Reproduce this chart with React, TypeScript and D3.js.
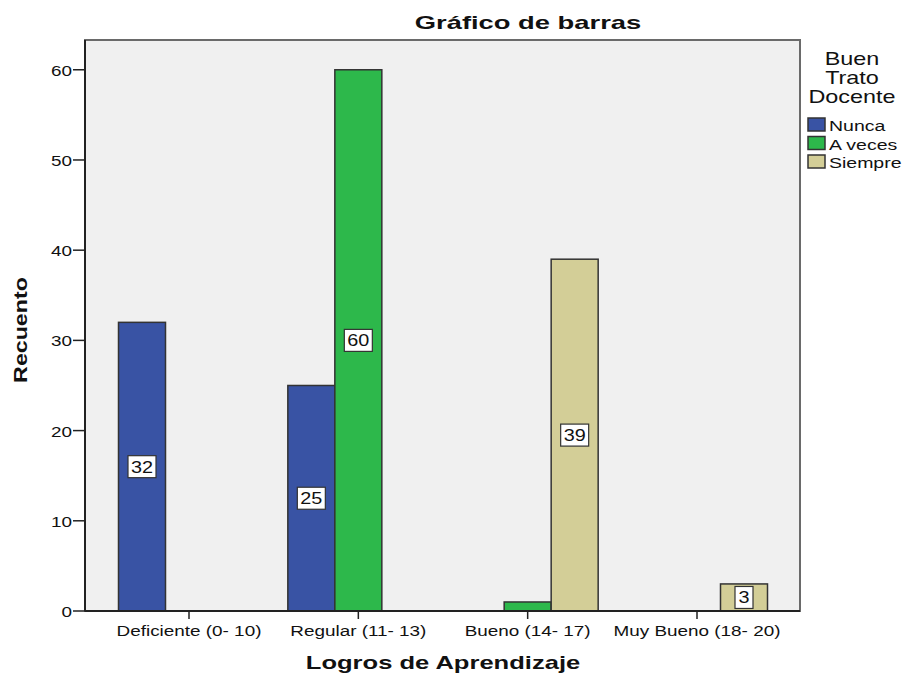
import React from "react";
import * as d3 from "d3";

const categories = ["Deficiente (0- 10)", "Regular (11- 13)", "Bueno (14- 17)", "Muy Bueno (18- 20)"];
const seriesNames = ["Nunca", "A veces", "Siempre"];
const nunca = [32, 25, 0, 0];
const aVeces = [0, 60, 1, 0];
const siempre = [0, 0, 39, 3];
const yTicks = [0, 10, 20, 30, 40, 50, 60];
const colors = ["#3953a4", "#2db84b", "#d3ce97"];
const legendTitle = ["Buen", "Trato", "Docente"];

const W = 902, H = 675;
const L = 85, R = 800, T = 40, B = 611;
const font = "'Liberation Sans', Arial, sans-serif";

function T2(props: { x: number; y: number; sx?: number; rot?: number; anchor?: string; size: number; bold?: boolean; children: any }) {
  const { x, y, sx = 1.27, rot = 0, anchor = "start", size, bold, children } = props;
  return (
    <text
      transform={`translate(${x},${y}) rotate(${rot}) scale(${sx},1)`}
      textAnchor={anchor}
      fontSize={size}
      fontWeight={bold ? "bold" : "normal"}
      fill="#111"
    >
      {children}
    </text>
  );
}

export default function App() {
  const series = [nunca, aVeces, siempre];
  const x = d3.scalePoint<string>().domain(categories).range([189, 697]);
  const y = d3.scaleLinear().domain([0, 63.3]).range([B, T]);
  const barW = 47;
  const groupW = barW * 3;
  return (
    <svg width={W} height={H} style={{ position: "absolute", left: 0, top: 0, fontFamily: font }}>
      <rect x={0} y={0} width={W} height={H} fill="#fff" />
      <rect x={L} y={T} width={R - L} height={B - T} fill="#f0f0f0" stroke="#6a6a6a" strokeWidth={2} />
      <T2 x={528} y={29} sx={1.52} anchor="middle" size={18} bold>Gráfico de barras</T2>
      {categories.map((c, ci) =>
        series.map((s, si) => {
          const v = s[ci];
          if (!v) return null;
          const x0 = (x(c) as number) - groupW / 2 + si * barW;
          const y0 = y(v);
          return (
            <rect key={c + si} x={x0} y={y0} width={barW} height={B - y0} fill={colors[si]} stroke="#333" strokeWidth={1.5} />
          );
        })
      )}
      {categories.map((c, ci) =>
        series.map((s, si) => {
          const v = s[ci];
          if (!v || v < 2) return null;
          const cx = (x(c) as number) - groupW / 2 + si * barW + barW / 2;
          const cy = y(v / 2);
          const w = String(v).length > 1 ? 28 : 18;
          return (
            <g key={"l" + c + si}>
              <rect x={cx - w / 2} y={cy - 11} width={w} height={22} fill="#fff" stroke="#333" strokeWidth={1.2} />
              <T2 x={cx} y={cy + 6} sx={1.24} anchor="middle" size={16}>{v}</T2>
            </g>
          );
        })
      )}
      <line x1={L} y1={T} x2={L} y2={B} stroke="#222" strokeWidth={2} />
      <line x1={L} y1={B} x2={R} y2={B} stroke="#222" strokeWidth={2} />
      {yTicks.map(t => (
        <g key={t}>
          <line x1={L - 12} x2={L} y1={y(t)} y2={y(t)} stroke="#222" strokeWidth={1.5} />
          <T2 x={L - 13} y={y(t) + 6} sx={1.26} anchor="end" size={15}>{t}</T2>
        </g>
      ))}
      {categories.map(c => (
        <g key={c}>
          <line x1={x(c) as number} x2={x(c) as number} y1={B} y2={B + 8} stroke="#222" strokeWidth={1.5} />
          <T2 x={x(c) as number} y={B + 25} sx={1.26} anchor="middle" size={15}>{c}</T2>
        </g>
      ))}
      <T2 x={443} y={669} sx={1.42} anchor="middle" size={18} bold>Logros de Aprendizaje</T2>
      <T2 x={27} y={330} rot={-90} sx={1.29} anchor="middle" size={18} bold>Recuento</T2>
      {legendTitle.map((t, i) => (
        <T2 key={t} x={852} y={65 + i * 19} sx={1.3} anchor="middle" size={18}>{t}</T2>
      ))}
      {seriesNames.map((n, i) => (
        <g key={n}>
          <rect x={808} y={118 + i * 18.5} width={17} height={13} fill={colors[i]} stroke="#333" strokeWidth={1.5} />
          <T2 x={829} y={131 + i * 18.5} sx={1.3} size={15}>{n}</T2>
        </g>
      ))}
    </svg>
  );
}
